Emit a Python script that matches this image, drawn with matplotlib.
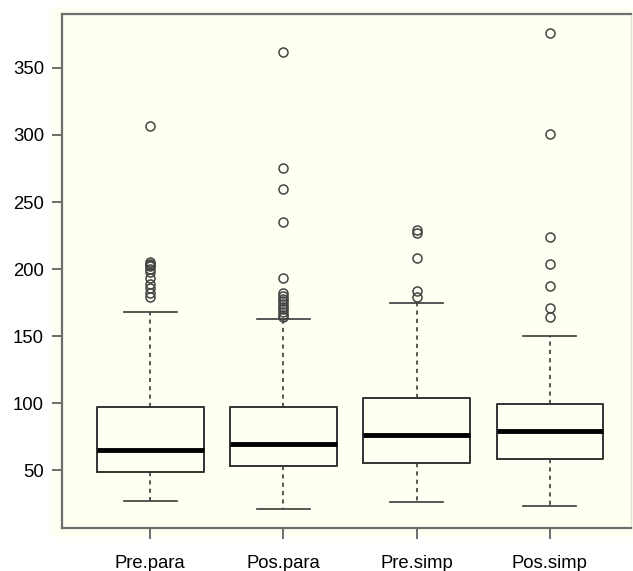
import matplotlib.pyplot as plt
from matplotlib.patches import Rectangle

# Values
groups = ["Pre.para", "Pos.para", "Pre.simp", "Pos.simp"]
lower_whisker = [27, 21, 26, 23]
q1 = [49, 53.4, 55.4, 58.4]
median = [65, 69.6, 76.5, 79.3]
q3 = [97, 97, 103.7, 99.2]
upper_whisker = [168, 163, 174.5, 150]
outliers = [
    [307, 205, 204, 203, 202, 200, 198, 193, 189, 186, 182, 179],
    [362, 275, 260, 235, 193, 182, 180, 178, 176, 174, 172, 170, 168, 166, 164],
    [229, 227, 208, 184, 179],
    [376, 301, 224, 204, 187, 171, 164],
]
yticks = [50, 100, 150, 200, 250, 300, 350]

stats = []
for i, name in enumerate(groups):
    stats.append({
        "label": name,
        "whislo": lower_whisker[i],
        "q1": q1[i],
        "med": median[i],
        "q3": q3[i],
        "whishi": upper_whisker[i],
        "fliers": outliers[i],
    })

plt.rcParams["font.family"] = ["Liberation Sans", "DejaVu Sans"]

fig = plt.figure(figsize=(6.33, 5.71), dpi=100)
ax = fig.add_axes([0.098, 0.076, 0.899, 0.8995])

# cream panel slightly larger than the axes
fig.patches.append(Rectangle((52 / 633, 1 - 537 / 571), 581 / 633, 530 / 571,
                             transform=fig.transFigure, facecolor="#fffff2",
                             edgecolor="none", zorder=-1))
ax.set_facecolor("#fffff2")

ax.bxp(
    stats,
    positions=[1, 2, 3, 4],
    widths=0.8,
    showfliers=True,
    boxprops=dict(color="#333333", linewidth=1.4),
    medianprops=dict(color="black", linewidth=3.5, solid_capstyle="butt"),
    whiskerprops=dict(color="#3a3a3a", linewidth=1.2, linestyle=(0, (2.5, 2.5))),
    capprops=dict(color="#3a3a3a", linewidth=1.2),
    flierprops=dict(marker="o", markerfacecolor="none", markeredgecolor="#444444",
                    markersize=6.5, markeredgewidth=1.1),
    capwidths=0.4,
)

ax.set_xlim(0.338, 4.61)
ax.set_ylim(7.2, 390.2)
ax.set_yticks(yticks)
ax.set_xticks([1, 2, 3, 4])
ax.set_xticklabels(groups)

for side in ["top", "left", "bottom"]:
    ax.spines[side].set_color("#6e6e6e")
    ax.spines[side].set_linewidth(1.6)
ax.spines["right"].set_color("#e4e4d8")
ax.spines["right"].set_linewidth(1.0)

ax.tick_params(axis="y", length=7, width=1.2, color="#555555", pad=6, labelsize=13.3)
ax.tick_params(axis="x", length=8, width=1.2, color="#555555", pad=12, labelsize=13.3)

fig.savefig("out.png", dpi=100)
